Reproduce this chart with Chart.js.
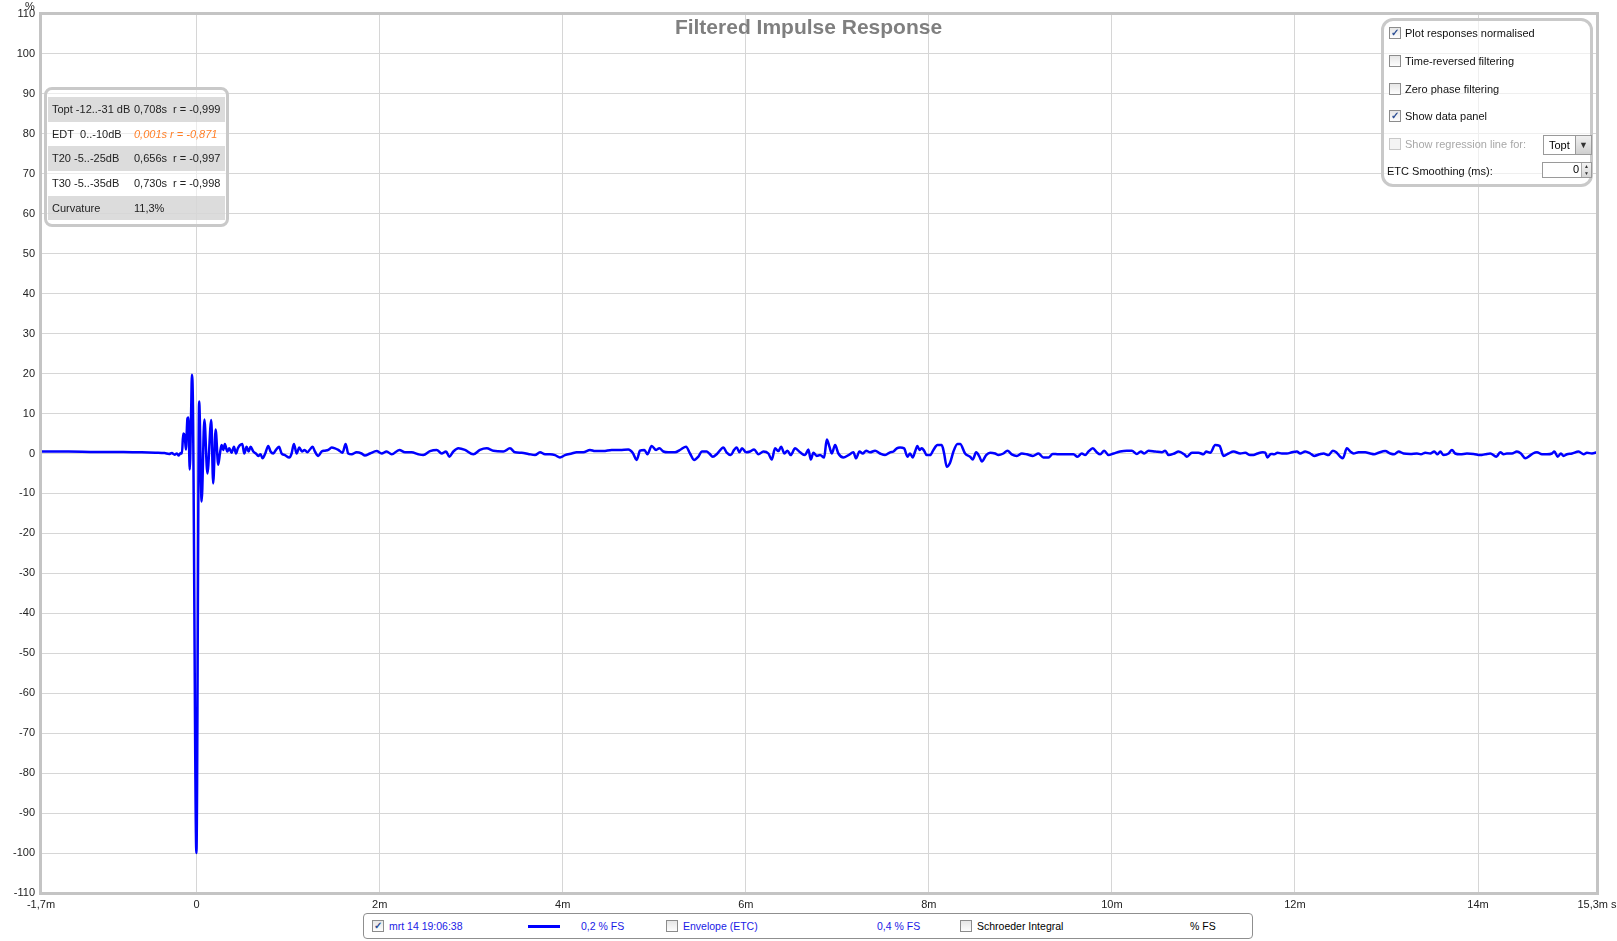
<!DOCTYPE html>
<html>
<head>
<meta charset="utf-8">
<script src="https://cdn.jsdelivr.net/npm/chart.js@4/dist/chart.umd.min.js"></script>
<style>
  body { margin: 0; background: #fff; font-family: 'Liberation Sans', Arial, sans-serif; }
  #wrap { position: relative; width: 1617px; height: 941px; overflow: hidden; }
  #wrap canvas { position: absolute; left: 0; top: 0; }
  .abs { position: absolute; white-space: nowrap; }
  #title { left: 0; width: 1617px; top: 15px; text-align: center; font-size: 21px; font-weight: bold; color: #7f7f7f; }
  #unitY { left: 25px; top: 0px; font-size: 11px; color: #222; }

  #dataPanel { left: 44px; top: 87px; width: 179px; height: 134px; border: 3px solid #c9c9c9; border-radius: 8px; background: rgba(255,255,255,0.55); }
  .row { position: absolute; left: 1px; width: 177px; height: 24.7px; font-size: 11px; color: #222; }
  .row.g { background: rgba(205,205,205,0.7); }
  .row span { position: absolute; top: 6px; white-space: nowrap; }
  .row .c1 { left: 4px; } .row .c2 { left: 86px; } .row .c3 { left: 125px; }
  .row .or { color: #ff7f27; font-style: italic; }

  #optPanel { left: 1381px; top: 18px; width: 206px; height: 163px; border: 3px solid #c9c9c9; border-radius: 12px; background: rgba(255,255,255,0.6); }
  .opt { position: absolute; left: 5px; font-size: 11px; color: #111; height: 14px; line-height: 14px; }
  .opt .lbl { position: absolute; left: 16px; top: 0; white-space: nowrap; }
  .cb { position: absolute; left: 0; top: 1px; width: 10px; height: 10px; border: 1px solid #8c8c8c; background: linear-gradient(#e6e6e6, #fdfdfd); font-size: 10px; line-height: 10px; text-align: center; color: #2b4d93; font-weight: bold; }
  .opt.dis { color: #a8a8a8; } .opt.dis .cb { border-color: #c8c8c8; background: #f4f4f4; }
  #dd { left: 1543px; top: 135px; width: 47px; height: 18px; border: 1px solid #9a9a9a; background: #fff; font-size: 11px; }
  #dd .t { position: absolute; left: 5px; top: 3px; }
  #dd .b { position: absolute; right: 0; top: 0; width: 15px; height: 18px; background: linear-gradient(#f0f0f0, #cfcfcf); border-left: 1px solid #9a9a9a; font-size: 9px; text-align: center; line-height: 18px; color: #333; }
  #sp { left: 1542px; top: 162px; width: 48px; height: 14px; border: 1px solid #9a9a9a; background: #fff; font-size: 11px; }
  #sp .t { position: absolute; right: 12px; top: 0; }
  #sp .b { position: absolute; right: 0; top: 0; width: 9px; height: 14px; background: linear-gradient(#f3f3f3, #d6d6d6); border-left: 1px solid #aaa; font-size: 5px; line-height: 7px; text-align: center; color: #333; }

  #legendBox { left: 363px; top: 913px; width: 888px; height: 24px; border: 1px solid #8f8f8f; border-radius: 4px; background: #fff; font-size: 10.5px; }
  #legendBox .it { position: absolute; top: 6px; white-space: nowrap; }
  #legendBox .cb { top: 6px; }
  .blue { color: #1a1ae6; }
  #swatch { position: absolute; left: 164px; top: 11px; width: 32px; height: 3px; background: #0000ff; }
</style>
</head>
<body>
<div id="wrap">
  <canvas id="irChart" width="1617" height="941"></canvas>

  <div class="abs" id="title">Filtered Impulse Response</div>
  <div class="abs" id="unitY">%</div>

  <div class="abs" id="dataPanel">
    <div class="row g" style="top:7px"><span class="c1">Topt -12..-31 dB</span><span class="c2">0,708s</span><span class="c3">r = -0,999</span></div>
    <div class="row" style="top:31.7px"><span class="c1">EDT&nbsp; 0..-10dB</span><span class="c2 or">0,001s r = -0,871</span></div>
    <div class="row g" style="top:56.4px"><span class="c1">T20 -5..-25dB</span><span class="c2">0,656s</span><span class="c3">r = -0,997</span></div>
    <div class="row" style="top:81.1px"><span class="c1">T30 -5..-35dB</span><span class="c2">0,730s</span><span class="c3">r = -0,998</span></div>
    <div class="row g" style="top:105.8px"><span class="c1">Curvature</span><span class="c2">11,3%</span></div>
  </div>

  <div class="abs" id="optPanel">
    <div class="opt" style="top:5px"><span class="cb">✓</span><span class="lbl">Plot responses normalised</span></div>
    <div class="opt" style="top:33px"><span class="cb"></span><span class="lbl">Time-reversed filtering</span></div>
    <div class="opt" style="top:61px"><span class="cb"></span><span class="lbl">Zero phase filtering</span></div>
    <div class="opt" style="top:88px"><span class="cb">✓</span><span class="lbl">Show data panel</span></div>
    <div class="opt dis" style="top:116px"><span class="cb"></span><span class="lbl">Show regression line for:</span></div>
    <div class="opt" style="top:143px; left:3px"><span class="lbl" style="left:0">ETC Smoothing (ms):</span></div>
  </div>
  <div class="abs" id="dd"><span class="t">Topt</span><span class="b">▼</span></div>
  <div class="abs" id="sp"><span class="t">0</span><span class="b">▲<br>▼</span></div>

  <div class="abs" id="legendBox">
    <span class="cb" style="left:8px">✓</span>
    <span class="it blue" style="left:25px">mrt 14 19:06:38</span>
    <span id="swatch"></span>
    <span class="it blue" style="left:217px">0,2 % FS</span>
    <span class="cb" style="left:302px"></span>
    <span class="it blue" style="left:319px">Envelope (ETC)</span>
    <span class="it blue" style="left:513px">0,4 % FS</span>
    <span class="cb" style="left:596px"></span>
    <span class="it" style="left:613px">Schroeder Integral</span>
    <span class="it" style="left:826px">% FS</span>
  </div>
</div>

<script>
// axis ticks
const xTickValues = [-1.7, 0, 2, 4, 6, 8, 10, 12, 14, 15.3];
const xTickLabels = ['-1,7m', '0', '2m', '4m', '6m', '8m', '10m', '12m', '14m', '15,3m s'];
const yTickValues = [-110, -100, -90, -80, -70, -60, -50, -40, -30, -20, -10, 0, 10, 20, 30, 40, 50, 60, 70, 80, 90, 100, 110];

// filtered impulse response, time in ms, amplitude in %
const timesMs = [
  -1.700, -1.400, -1.100, -0.800, -0.600, -0.450, -0.350, -0.300, -0.270, -0.240,
  -0.215, -0.195, -0.175, -0.160, -0.146, -0.130, -0.117, -0.100, -0.090, -0.075,
  -0.060, -0.051, -0.040, -0.002, 0.028, 0.055, 0.085, 0.118, 0.160, 0.181,
  0.208, 0.236, 0.255, 0.273, 0.291, 0.309, 0.335, 0.357, 0.382, 0.408,
  0.430, 0.451, 0.473, 0.499, 0.521, 0.546, 0.568, 0.590, 0.619, 0.648,
  0.674, 0.699, 0.721, 0.750, 0.783, 0.808, 0.838, 0.867, 0.900, 0.929,
  0.965, 1.012, 1.038, 1.063, 1.093, 1.122, 1.151, 1.180, 1.209, 1.238,
  1.267, 1.293, 1.329, 1.366, 1.402, 1.439, 1.475, 1.512, 1.548, 1.595,
  1.628, 1.657, 1.694, 1.748, 1.803, 1.839, 1.894, 1.967, 2.022, 2.076,
  2.131, 2.215, 2.277, 2.349, 2.422, 2.477, 2.550, 2.623, 2.677, 2.725,
  2.761, 2.805, 2.860, 2.932, 3.023, 3.096, 3.169, 3.242, 3.351, 3.424,
  3.479, 3.552, 3.624, 3.697, 3.752, 3.807, 3.861, 3.916, 3.970, 4.025,
  4.098, 4.152, 4.225, 4.298, 4.353, 4.444, 4.535, 4.626, 4.717, 4.764,
  4.808, 4.845, 4.892, 4.925, 4.972, 5.020, 5.056, 5.100, 5.154, 5.227,
  5.289, 5.347, 5.391, 5.435, 5.482, 5.519, 5.573, 5.602, 5.639, 5.690,
  5.755, 5.792, 5.836, 5.872, 5.901, 5.930, 5.959, 6.003, 6.047, 6.091,
  6.138, 6.193, 6.247, 6.284, 6.320, 6.356, 6.386, 6.422, 6.455, 6.491,
  6.539, 6.593, 6.648, 6.684, 6.710, 6.739, 6.775, 6.812, 6.856, 6.885,
  6.914, 6.939, 6.976, 7.012, 7.067, 7.122, 7.176, 7.205, 7.242, 7.278,
  7.315, 7.358, 7.413, 7.468, 7.522, 7.577, 7.613, 7.650, 7.686, 7.730,
  7.766, 7.795, 7.824, 7.850, 7.875, 7.897, 7.923, 7.948, 7.977, 8.014,
  8.050, 8.094, 8.141, 8.167, 8.196, 8.232, 8.269, 8.313, 8.342, 8.396,
  8.451, 8.480, 8.517, 8.553, 8.579, 8.626, 8.670, 8.724, 8.761, 8.815,
  8.859, 8.906, 8.961, 9.016, 9.070, 9.136, 9.198, 9.252, 9.307, 9.354,
  9.416, 9.508, 9.580, 9.624, 9.671, 9.708, 9.744, 9.792, 9.835, 9.872,
  9.916, 9.963, 10.018, 10.090, 10.163, 10.218, 10.273, 10.316, 10.353, 10.400,
  10.473, 10.546, 10.582, 10.619, 10.681, 10.728, 10.790, 10.819, 10.874, 10.946,
  11.001, 11.030, 11.074, 11.129, 11.176, 11.220, 11.274, 11.329, 11.402, 11.457,
  11.511, 11.547, 11.591, 11.649, 11.675, 11.700, 11.737, 11.773, 11.810, 11.857,
  11.912, 11.966, 12.021, 12.057, 12.112, 12.167, 12.210, 12.269, 12.312, 12.367,
  12.414, 12.451, 12.495, 12.524, 12.567, 12.604, 12.640, 12.695, 12.768, 12.822,
  12.866, 12.914, 12.986, 13.041, 13.085, 13.132, 13.187, 13.260, 13.333, 13.376,
  13.424, 13.478, 13.522, 13.558, 13.588, 13.624, 13.679, 13.715, 13.751, 13.806,
  13.879, 13.952, 14.025, 14.079, 14.134, 14.200, 14.243, 14.280, 14.316, 14.371,
  14.425, 14.469, 14.517, 14.564, 14.600, 14.644, 14.699, 14.753, 14.808, 14.834,
  14.870, 14.906, 14.935, 14.972, 15.027, 15.099, 15.154, 15.190, 15.245, 15.300
];
const valuesPct = [
  0.5, 0.5, 0.4, 0.4, 0.3, 0.2, 0.1, -0.1, 0.1, -0.3,
  0.0, -0.5, 0.1, 0.0, 5.0, 4.5, 1.0, 8.8, 9.0, -4.0,
  10.0, 19.7, 12.0, -100.0, 13.0, -12.0, 8.5, -5.0, 8.4, -7.5,
  6.0, -2.8, 0.0, 2.1, 0.9, 2.4, 0.5, 1.3, 0.2, 1.7,
  0.0, 1.3, 2.1, 2.4, 0.0, 1.7, 0.5, 1.7, 0.5, 0.0,
  -0.6, -0.2, -1.2, 0.0, 1.9, 0.5, 0.0, 0.9, 1.7, 0.0,
  -0.4, -1.0, 0.0, 2.4, 0.0, 1.5, 0.5, 0.9, 0.3, 1.0,
  1.7, 0.5, -0.6, 0.5, 0.7, 0.9, 1.5, 1.3, 0.9, 0.2,
  2.4, 0.0, -0.2, 0.3, 0.0, -0.5, 0.0, 0.6, 0.0, 0.5,
  -0.2, 0.9, 0.3, 0.3, -0.2, -0.4, 0.6, 0.9, 0.0, 0.5,
  -0.8, 0.5, 1.3, 0.9, -0.2, 0.9, 1.3, 0.7, 0.5, 1.3,
  0.3, 0.2, -0.1, -0.4, 0.3, -0.2, -0.2, -0.4, -1.0, -0.4,
  0.0, 0.3, 0.3, 0.9, 0.6, 0.6, 0.9, 0.9, 1.0, 0.2,
  -1.6, 0.7, 0.9, -0.2, 1.9, 0.9, 1.3, 0.5, 0.3, 0.3,
  1.0, 1.7, 0.0, -1.6, -0.8, 0.5, 0.5, 0.0, -0.8, 0.0,
  1.5, 0.2, -0.4, 0.9, 1.5, 0.3, 1.3, 0.3, 0.5, 1.0,
  -0.2, 0.5, 0.0, -1.5, 1.3, 0.6, 1.7, 0.0, 0.7, -0.4,
  1.3, 0.3, -0.4, 1.0, -1.5, 0.2, -0.6, -0.4, -1.0, 3.5,
  1.7, 0.0, 2.1, 0.0, -1.0, -0.4, 0.3, -1.2, 0.5, 0.0,
  0.7, 0.3, 0.7, 0.0, -0.4, 0.3, 0.5, 1.3, 1.5, 1.3,
  -0.8, 0.0, -1.0, 0.5, 1.9, 0.9, 1.3, 0.7, -0.4, -0.4,
  0.9, 2.1, 2.1, 0.0, -3.3, -2.3, 0.5, 2.4, 2.4, 0.0,
  -0.8, -1.5, 0.3, -0.8, -2.0, -0.4, 0.2, 0.0, -0.4, 0.0,
  0.7, -0.2, -0.6, 0.0, -0.2, -0.6, 0.0, -1.0, -1.0, -0.1,
  -0.2, -0.2, -0.2, -0.8, 0.0, -0.4, 0.5, 1.3, 0.3, -0.2,
  0.7, -0.4, 0.0, 0.5, 0.7, 0.7, -0.1, 0.5, 0.0, 0.7,
  0.5, 0.3, 0.7, -0.4, 0.0, 0.5, -0.2, -0.8, 0.2, 0.2,
  -0.2, 0.5, 0.2, 2.1, 1.9, -0.6, 0.0, 0.5, 0.0, 0.2,
  -0.4, -0.4, 0.0, 0.3, 0.2, -1.0, -0.1, -0.2, 0.2, 0.0,
  0.0, 0.3, 0.5, 0.0, 0.5, 0.0, -0.6, -0.2, 0.0, -0.4,
  0.7, 0.3, -0.8, -1.2, 1.3, 0.5, 0.0, 0.3, 0.3, 0.0,
  -0.2, 0.2, 0.6, 0.0, -0.2, 0.5, 0.0, -0.1, 0.0, -0.2,
  0.2, 0.0, 0.5, -0.2, 0.5, -0.4, 0.0, 0.9, 0.0, -0.2,
  0.0, -0.1, -0.4, -0.2, 0.0, -0.8, 0.3, -0.2, 0.0, 0.0,
  0.5, 0.0, -1.2, -0.6, 0.0, 0.3, -0.2, -0.2, 0.0, 0.5,
  -0.8, 0.0, -0.6, -0.2, 0.0, 0.5, -0.2, 0.2, 0.0, 0.3
];

const points = timesMs.map((t, i) => ({ x: t, y: valuesPct[i] }));

// grey frame round the plot area
const plotFrame = {
  id: 'plotFrame',
  afterDraw(chart) {
    const { ctx, chartArea: a } = chart;
    ctx.save();
    ctx.strokeStyle = '#c4c4c4';
    ctx.lineWidth = 3;
    ctx.strokeRect(a.left - 0.5, a.top - 0.5, a.right - a.left + 1, a.bottom - a.top + 1);
    ctx.restore();
  }
};

Chart.defaults.font.family = "'Liberation Sans', Arial, sans-serif";
Chart.defaults.font.size = 11;
Chart.defaults.color = '#222';

new Chart(document.getElementById('irChart'), {
  type: 'line',
  data: {
    datasets: [{
      label: 'mrt 14 19:06:38',
      data: points,
      borderColor: '#0000ff',
      borderWidth: 2.5,
      pointRadius: 0,
      fill: false,
      cubicInterpolationMode: 'monotone',
      borderJoinStyle: 'round'
    }]
  },
  options: {
    responsive: false,
    animation: false,
    devicePixelRatio: 1,
    layout: { padding: { left: 0, right: 20, top: 14, bottom: 0 } },
    plugins: {
      legend: { display: false },
      tooltip: { enabled: false },
      title: { display: false }
    },
    scales: {
      x: {
        type: 'linear',
        min: -1.7,
        max: 15.3,
        afterBuildTicks: s => { s.ticks = xTickValues.map(v => ({ value: v })); },
        afterFit: s => { s.height = 48; s.paddingLeft = 0; s.paddingRight = 0; },
        grid: { color: '#d6d6d6', drawTicks: false },
        border: { display: false },
        ticks: {
          padding: 5,
          maxRotation: 0,
          autoSkip: false,
          callback: (v) => {
            const i = xTickValues.indexOf(v);
            return i >= 0 ? xTickLabels[i] : '';
          }
        }
      },
      y: {
        min: -110,
        max: 110,
        afterBuildTicks: s => { s.ticks = yTickValues.map(v => ({ value: v })); },
        afterFit: s => { s.width = 41; s.paddingTop = 0; s.paddingBottom = 0; },
        grid: { color: '#d6d6d6', drawTicks: false },
        border: { display: false },
        ticks: { padding: 6, autoSkip: false }
      }
    }
  },
  plugins: [plotFrame]
});
</script>
</body>
</html>
